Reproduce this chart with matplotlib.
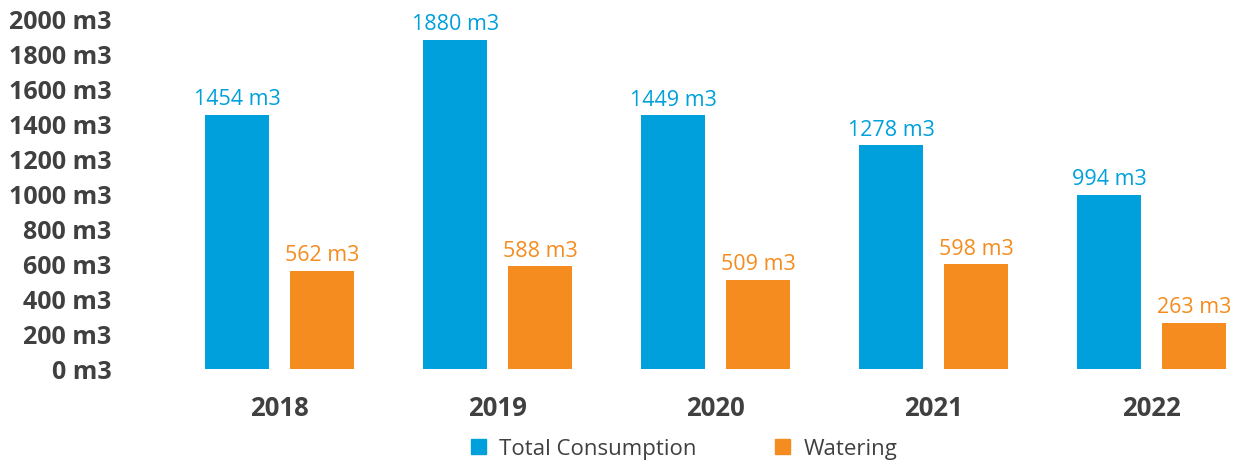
import matplotlib.pyplot as plt
import numpy as np
from matplotlib.patches import Patch

plt.rcParams['font.family'] = ['Open Sans', 'DejaVu Sans']

years = ["2018", "2019", "2020", "2021", "2022"]
total_consumption = [1454, 1880, 1449, 1278, 994]
watering = [562, 588, 509, 598, 263]
y_ticks = [0, 200, 400, 600, 800, 1000, 1200, 1400, 1600, 1800, 2000]

BLUE = "#00a0dc"
ORANGE = "#f48c1f"
GREY = "#404040"

fig = plt.figure(figsize=(12.37, 4.64), dpi=100)
ax = fig.add_axes([0.1116, 0.2026, 0.8864, 0.7544])

x = np.arange(len(years))
off = 0.195
w = 0.294
b1 = ax.bar(x - off, total_consumption, w, color=BLUE)
b2 = ax.bar(x + off, watering, w, color=ORANGE)

for bars, vals, col in [(b1, total_consumption, BLUE), (b2, watering, ORANGE)]:
    for rect, v in zip(bars, vals):
        ax.annotate(f"{v} m3", (rect.get_x() + rect.get_width() / 2, v),
                    xytext=(0, 4), textcoords="offset points",
                    ha="center", va="bottom", fontsize=15.5, color=col)

ax.set_xlim(-0.65, 4.38)
ax.set_ylim(0, 2000)
ax.set_xticks(x)
ax.set_xticklabels(years, fontsize=18.5, fontweight="bold", color=GREY)
ax.set_yticks(y_ticks)
ax.set_yticklabels([f"{t} m3" for t in y_ticks], fontsize=18,
                   fontweight="bold", color=GREY)
ax.tick_params(axis="both", length=0)
ax.tick_params(axis="x", pad=18)
ax.tick_params(axis="y", pad=19)
for s in ax.spines.values():
    s.set_visible(False)

handles = [Patch(color=BLUE, label="Total Consumption"),
           Patch(color=ORANGE, label="Watering")]
fig.legend(handles=handles, loc="center", bbox_to_anchor=(0.553, 0.031),
           ncol=2, frameon=False, fontsize=16, labelcolor=GREY,
           handlelength=0.68, handleheight=0.68, handletextpad=0.6,
           columnspacing=3.5)

fig.savefig("out.png", dpi=100)
